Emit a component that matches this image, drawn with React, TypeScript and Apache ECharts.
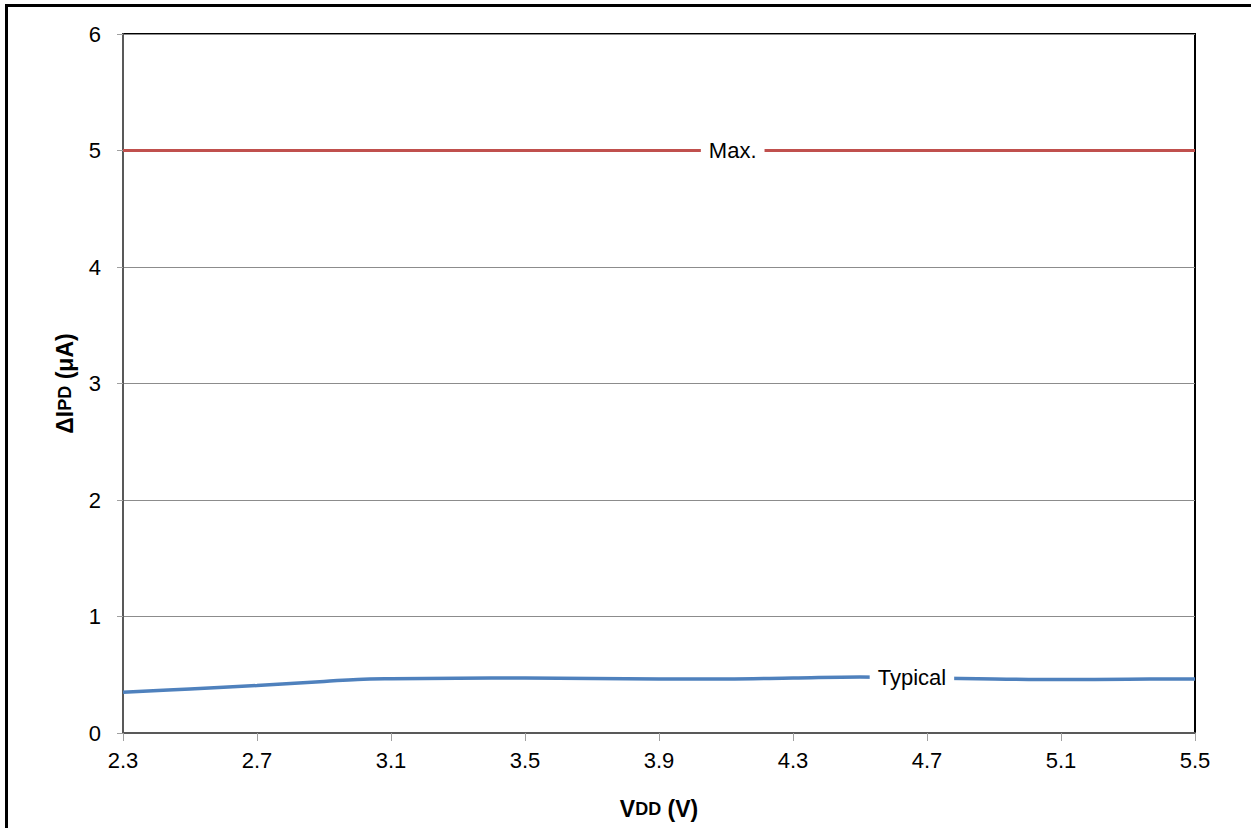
import React, { useEffect, useRef } from "react";
import * as echarts from "echarts";

const xTicks = [2.3, 2.7, 3.1, 3.5, 3.9, 4.3, 4.7, 5.1, 5.5];

const typicalX = [2.3, 2.5, 2.7, 2.9, 3.0, 3.1, 3.3, 3.5, 3.7, 3.9, 4.1, 4.3, 4.5, 4.7, 4.9, 5.1, 5.3, 5.5];
const typicalY = [0.349, 0.378, 0.408, 0.442, 0.460, 0.466, 0.470, 0.472, 0.468, 0.464, 0.464, 0.472, 0.481, 0.472, 0.464, 0.459, 0.462, 0.464];

const maxX = [2.3, 5.5];
const maxY = [5, 5];

const maxLabelAt = [4.12, 5];
const typicalLabelAt = [4.655, 0.48];

export default function App() {
  const ref = useRef<HTMLDivElement>(null);
  useEffect(() => {
    if (!ref.current) return;
    const chart = echarts.init(ref.current, null, { renderer: "svg" });
    const font = "'Liberation Sans', Arial, sans-serif";
    const labelStyle = {
      show: true,
      color: "#000",
      fontSize: 22,
      fontFamily: font,
      backgroundColor: "#fff",
      padding: [2, 8, 2, 8],
      position: "inside",
    };
    const titleRich = {
      a: { fontSize: 23, fontWeight: "bold", color: "#000", fontFamily: font },
      b: { fontSize: 18, fontWeight: "bold", color: "#000", fontFamily: font },
    };
    chart.setOption({
      animation: false,
      backgroundColor: "#fff",
      textStyle: { fontFamily: font },
      graphic: [
        {
          type: "rect",
          shape: { x: 6.5, y: 5.5, width: 1400, height: 1000 },
          style: { fill: "none", stroke: "#000", lineWidth: 3 },
          silent: true,
          z: 100,
        },
      ],
      grid: {
        left: 123,
        top: 34,
        right: 56,
        bottom: 95,
        show: true,
        borderColor: "#000",
        borderWidth: 2,
        backgroundColor: "#fff",
      },
      xAxis: {
        type: "value",
        min: 2.3,
        max: 5.5,
        name: "{a|V}{b|DD}{a| (V)}",
        nameLocation: "middle",
        nameGap: 64,
        nameTextStyle: { rich: titleRich },
        axisLine: { show: true, lineStyle: { color: "#595959", width: 2 } },
        axisTick: {
          show: true,
          length: 8,
          customValues: xTicks,
          lineStyle: { color: "#a0a0a0", width: 1 },
        },
        axisLabel: {
          customValues: xTicks,
          color: "#000",
          fontSize: 22,
          fontFamily: font,
          margin: 16,
          formatter: (v: number) => v.toFixed(1),
        },
        splitLine: { show: false },
      },
      yAxis: {
        type: "value",
        min: 0,
        max: 6,
        interval: 1,
        name: "{a|ΔI}{b|PD}{a| (μA)}",
        nameLocation: "middle",
        nameGap: 47,
        nameRotate: 90,
        nameTextStyle: { rich: titleRich },
        axisLine: { show: true, lineStyle: { color: "#595959", width: 2 } },
        axisTick: { show: true, length: 6, lineStyle: { color: "#a0a0a0", width: 1 } },
        axisLabel: {
          color: "#000",
          fontSize: 22,
          fontFamily: font,
          margin: 22,
        },
        splitLine: { show: true, lineStyle: { color: "#8c8c8c", width: 1 } },
      },
      series: [
        {
          name: "Max.",
          type: "line",
          data: maxX.map((x, i) => [x, maxY[i]]),
          symbol: "none",
          lineStyle: { color: "#c0504d", width: 3 },
          z: 3,
          markPoint: {
            symbol: "circle",
            symbolSize: 0,
            data: [{ coord: maxLabelAt, value: "Max." }],
            label: { ...labelStyle, formatter: "Max." },
            z: 5,
          },
        },
        {
          name: "Typical",
          type: "line",
          data: typicalX.map((x, i) => [x, typicalY[i]]),
          symbol: "none",
          smooth: 0.4,
          lineStyle: { color: "#4f81bd", width: 3.5 },
          z: 3,
          markPoint: {
            symbol: "circle",
            symbolSize: 0,
            data: [{ coord: typicalLabelAt, value: "Typical" }],
            label: { ...labelStyle, formatter: "Typical" },
            z: 5,
          },
        },
      ],
    });
    return () => chart.dispose();
  }, []);
  return (
    <div
      ref={ref}
      style={{ position: "fixed", left: 0, top: 0, width: 1251, height: 828 }}
    />
  );
}
